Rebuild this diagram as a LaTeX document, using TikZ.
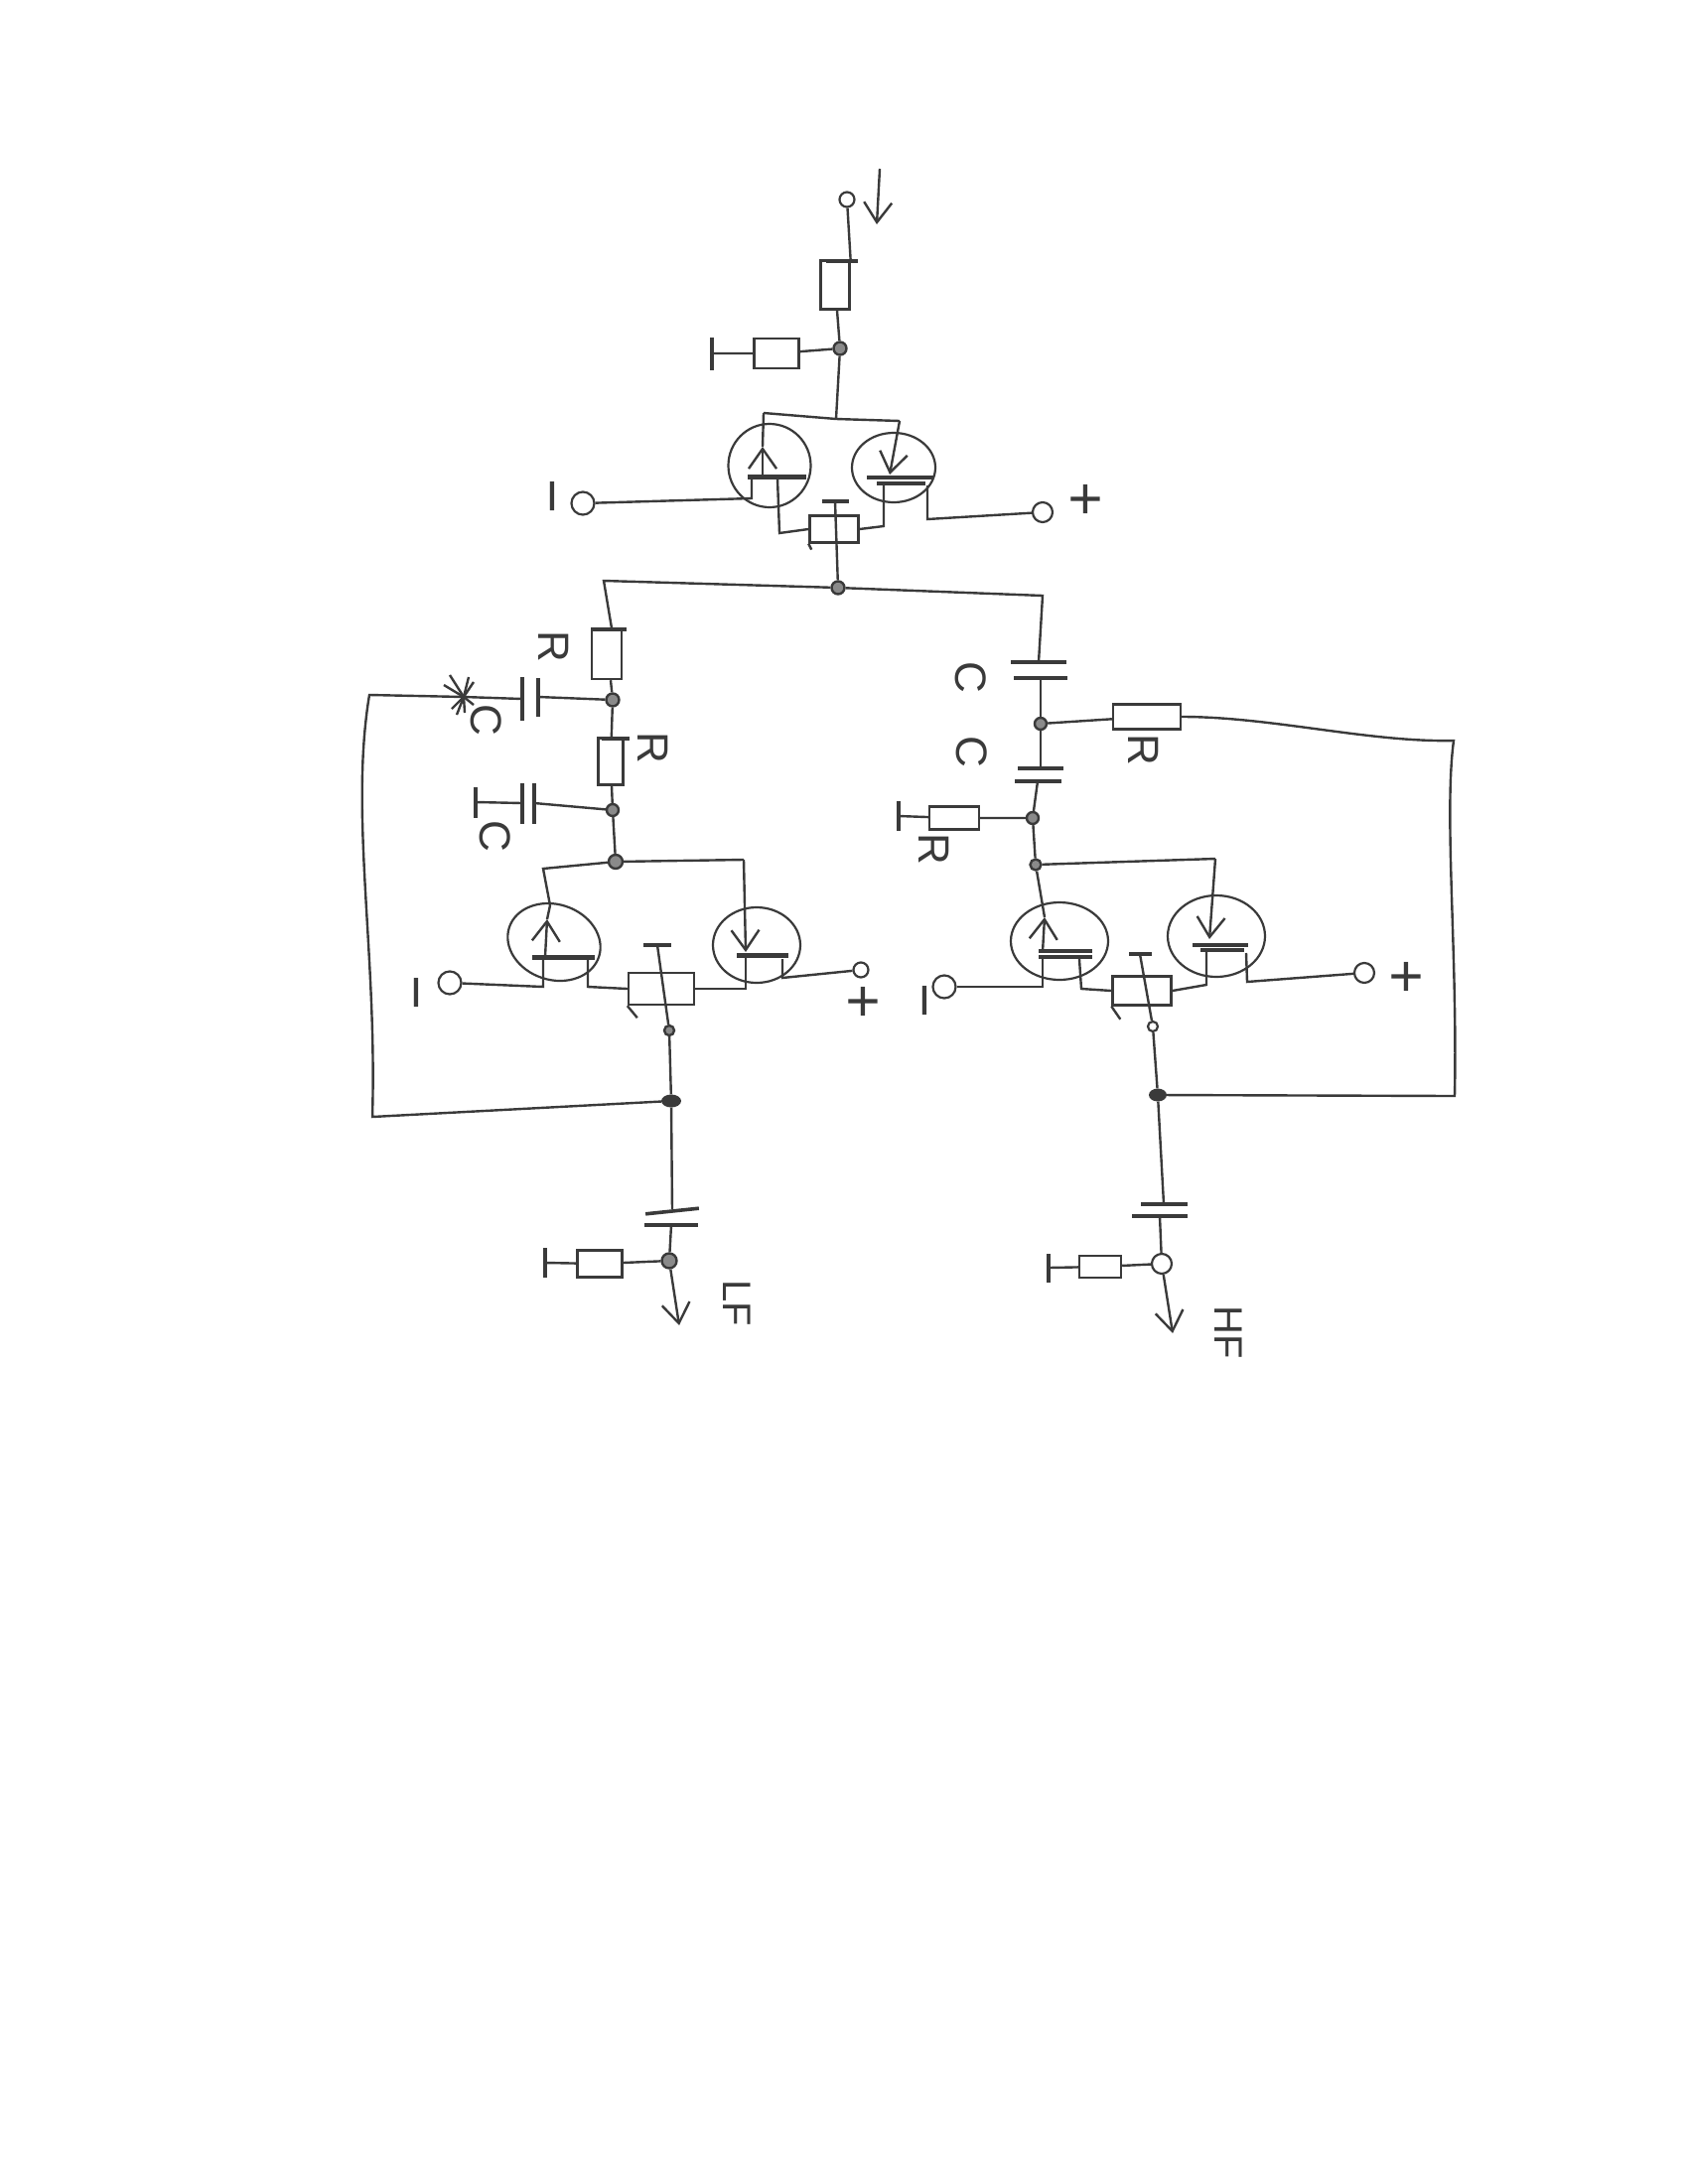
\documentclass[tikz,border=0pt]{standalone}
\usepackage{fontspec}
\setmainfont{Liberation Sans}
\usepackage{xcolor}
\usetikzlibrary{shapes.geometric,arrows.meta}
\definecolor{ink}{HTML}{3A3A3A}
\definecolor{junk}{HTML}{8A8A8A}
\tikzset{
  wire/.style={draw=ink, line width=2.4pt},
  feed/.style={wire, -{Straight Barb[length=20pt,width=28pt]}},
  term/.style={circle, draw=ink, line width=2.2pt, fill=white, inner sep=0pt, minimum size=#1pt},
  junc/.style={circle, draw=ink, line width=2.4pt, fill=junk, inner sep=0pt, minimum size=#1pt},
  blob/.style={ellipse, fill=ink, inner sep=0pt, minimum width=#1pt, minimum height=13pt},
  res/.style 2 args={rectangle, draw=ink, line width=2.4pt, inner sep=0pt, minimum width=#1pt, minimum height=#2pt},
  trans/.style 2 args={ellipse, draw=ink, line width=2.2pt, inner sep=0pt, minimum width=#1pt, minimum height=#2pt},
  hbar/.style={rectangle, fill=ink, inner sep=0pt, minimum width=#1pt, minimum height=3.6pt},
  vbar/.style={rectangle, fill=ink, inner sep=0pt, minimum width=3.6pt, minimum height=#1pt},
  lab/.style={text=ink, font=\fontsize{44}{44}\selectfont, rotate=-90, inner sep=0pt},
  sign/.style={text=ink, font=\fontsize{60}{60}\selectfont, rotate=-90, inner sep=0pt},
}
\begin{document}
\begin{tikzpicture}[x=1pt,y=-1pt]
  \useasboundingbox (0,0) rectangle (1700,2200);

  \node[term=15] (Vtop) at (853,201) {};
  \node[res={29}{49}] (Rtop) at (841,287) {};
  \node[hbar=32] (RtopLip) at (848,263) {};
  \node[junc=13] (Jtop) at (846,351) {};
  \node[res={45}{30}] (Rshunt) at (782,356) {};
  \node[vbar=33] (Gshunt) at (717,356) {};
  \coordinate (ArrA) at (886,170);
  \coordinate (ArrB) at (883,226);
  \draw[feed] (ArrA) -- (ArrB);
  \draw[wire] (Vtop) -- (RtopLip -| Rtop.east);
  \draw[wire] (Rtop) -- (Jtop) -- (Rshunt) -- (Gshunt);

  \coordinate (TailT) at (842,422);
  \coordinate (SrcA) at (769,416);
  \coordinate (SrcB) at (906,424);
  \draw[wire] (Jtop) -- (TailT);
  \draw[wire] (SrcA) -- (TailT) -- (SrcB);

  \node[trans={83}{84}] (QtA) at (775,469) {};
  \node[trans={84}{70}] (QtB) at (900,471) {};
  \node[hbar=59, minimum height=5pt] (GtA) at (782,480) {};
  \node[hbar=67] (GtB) at (906,481) {};
  \node[hbar=49] (GtB2) at (907,487) {};
  \coordinate (TipA) at (768,450);
  \coordinate (TipB) at (896,478);
  \draw[feed] (768,478) -- (TipA);
  \draw[wire] (TipA) -- (SrcA);
  \draw[feed] (SrcB) -- (TipB);

  \node[term=23] (InTL) at (587,507) {};
  \node[term=20] (InTR) at (1050,516) {};
  \node[res={49}{27}] (PotT) at (840,533) {};
  \node[hbar=27] (CapT) at (841,505) {};
  \node[junc=13] (Jbus) at (844,592) {};
  \coordinate (DtA) at (757,502);
  \coordinate (LtA) at (785,537);
  \coordinate (DtB) at (890,530);
  \coordinate (LtB) at (934,523);
  \draw[wire] (757,482) -- (DtA) -- (InTL);
  \draw[wire] (783,482) -- (LtA) -- (PotT.west);
  \draw[wire] (890,489) -- (DtB) -- (PotT.east);
  \draw[wire] (934,489) -- (LtB) -- (InTR);
  \draw[wire] (CapT) -- (Jbus);
  \draw[wire] (PotT.south west) -- ++(3,6);
  \node[sign] (MinT) at (548,500) {−};
  \node[sign] (PlusT) at (1091,503) {+};

  \coordinate (BusL) at (608,585);
  \coordinate (BusR) at (1050,600);
  \node[res={30}{50}] (RlA) at (611,659) {};
  \node[hbar=36] (RlALip) at (613,634) {};
  \node[junc=13] (JlA) at (617,705) {};
  \node[vbar=39] (ClA) at (542,702) {};
  \node[vbar=44] (ClB) at (526,704) {};
  \coordinate (Burst) at (467,702);
  \node[res={25}{47}] (RlB) at (615,767) {};
  \node[hbar=28] (RlBLip) at (620,744) {};
  \node[junc=12] (JlB) at (617,816) {};
  \node[vbar=41] (CmA) at (538,809) {};
  \node[vbar=41] (CmB) at (526,809) {};
  \node[vbar=31] (GlB) at (479,808) {};
  \node[junc=14] (JlC) at (620,868) {};
  \draw[wire] (Jbus) -- (BusL) -- ([xshift=5pt]RlA.north);
  \draw[wire] ([xshift=4pt]RlA.south) -- (JlA) -- (RlB) -- (JlB) -- (JlC);
  \draw[wire] (JlA) -- (ClA);
  \draw[wire] (ClB) -- (Burst);
  \draw[wire] (JlB) -- (CmA);
  \draw[wire] (CmB) -- (GlB);
  \foreach \dx/\dy in {-14/-22,-20/-12,5/-20,10/-15,-7/18,1/16,10/8,-12/12}
    \draw[wire] (Burst) -- ++(\dx,\dy);
  \node[lab] (TxtRa) at (558,651) {R};
  \node[lab] (TxtCa) at (490,725) {C};
  \node[lab] (TxtRb) at (658,753) {R};
  \node[lab] (TxtCb) at (499,842) {C};

  \node[trans={95}{76}, rotate=-18] (QlA) at (558,949) {};
  \node[trans={88}{76}] (QlB) at (762,952) {};
  \node[hbar=63, minimum height=5pt] (GlA) at (567,964) {};
  \node[hbar=52, minimum height=5pt] (GlC) at (768,962) {};
  \coordinate (SlA) at (547,875);
  \coordinate (SlM) at (554,912);
  \coordinate (SlB) at (749,866);
  \coordinate (TipC) at (551,926);
  \coordinate (TipD) at (751,959);
  \draw[wire] (JlC) -- (SlA) -- (SlM) -- (TipC);
  \draw[feed] (549,964) -- (TipC);
  \draw[wire] (JlC) -- (SlB);
  \draw[feed] (SlB) -- (TipD);

  \node[term=23] (InLL) at (453,990) {};
  \node[term=15] (InLR) at (867,977) {};
  \node[res={66}{32}] (PotL) at (666,996) {};
  \node[hbar=28] (CapL) at (662,952) {};
  \node[junc=10] (JwL) at (674,1038) {};
  \node[blob=20] (DotL) at (676,1109) {};
  \coordinate (DlA) at (547,994);
  \coordinate (LlA) at (592,994);
  \coordinate (DlB) at (751,996);
  \coordinate (LlB) at (788,985);
  \draw[wire] (547,964) -- (DlA) -- (InLL);
  \draw[wire] (592,966) -- (LlA) -- (PotL.west);
  \draw[wire] (751,964) -- (DlB) -- (PotL.east);
  \draw[wire] (788,966) -- (LlB) -- (InLR);
  \draw[wire] (CapL) -- (JwL) -- (DotL);
  \draw[wire] (PotL.south west) -- ++(10,12);
  \node[sign] (MinL) at (411,1000) {−};
  \node[sign] (PlusL) at (867,1009) {+};

  \coordinate (OutC) at (375,1125);
  \coordinate (OutD) at (372,700);
  \draw[wire] (Burst) -- (OutD) .. controls (352,820) and (380,960) .. (OutC) -- (DotL);

  \node[hbar=54, rotate=6] (CoA) at (677,1220) {};
  \node[hbar=54] (CoB) at (676,1234) {};
  \node[junc=15] (JoL) at (674,1270) {};
  \node[res={45}{27}] (RoL) at (604,1273) {};
  \node[vbar=30] (GoL) at (549,1272) {};
  \coordinate (EndL) at (684,1335);
  \draw[wire] (DotL) -- (CoA);
  \draw[wire] (CoB) -- (JoL) -- (RoL) -- (GoL);
  \draw[feed] (JoL) -- (EndL);
  \node[lab, font=\fontsize{40}{40}\selectfont] (TxtLF) at (742,1313) {LF};

  \node[hbar=56] (CrA) at (1046,667) {};
  \node[hbar=54] (CrB) at (1048,683) {};
  \node[junc=12] (JrA) at (1048,729) {};
  \node[res={68}{25}] (RrA) at (1155,722) {};
  \node[hbar=46] (CnA) at (1048,774) {};
  \node[hbar=47] (CnB) at (1045,787) {};
  \node[junc=12] (JrB) at (1040,824) {};
  \node[res={50}{23}] (RrB) at (961,824) {};
  \node[vbar=30] (GrB) at (905,822) {};
  \node[junc=11] (JrC) at (1043,871) {};
  \draw[wire] (Jbus) -- (BusR) -- (CrA);
  \draw[wire] (CrB) -- (JrA) -- (CnA);
  \draw[wire] (CnB) -- (JrB) -- (JrC);
  \draw[wire] (JrA) -- (RrA);
  \draw[wire] (JrB) -- (RrB) -- (GrB);
  \node[lab] (TxtCc) at (978,682) {C};
  \node[lab] (TxtCd) at (979,757) {C};
  \node[lab] (TxtRc) at (1152,755) {R};
  \node[lab] (TxtRd) at (941,855) {R};

  \node[trans={98}{78}] (QrA) at (1067,948) {};
  \node[trans={98}{82}] (QrB) at (1225,943) {};
  \node[hbar=54] (GrA) at (1073,958) {};
  \node[hbar=54] (GrA2) at (1073,964) {};
  \node[hbar=56] (GrC) at (1229,952) {};
  \node[hbar=44] (GrC2) at (1231,957) {};
  \coordinate (SrB) at (1224,865);
  \coordinate (TipE) at (1052,924);
  \coordinate (TipF) at (1218,946);
  \draw[feed] (1050,959) -- (TipE);
  \draw[wire] (TipE) -- (JrC);
  \draw[wire] (JrC) -- (SrB);
  \draw[feed] (SrB) -- (TipF);

  \node[term=23] (InRL) at (951,994) {};
  \node[term=20] (InRR) at (1374,980) {};
  \node[res={59}{29}] (PotR) at (1150,998) {};
  \node[hbar=23] (CapR) at (1148,961) {};
  \node[term=10] (JwR) at (1161,1034) {};
  \node[blob=18] (DotR) at (1166,1103) {};
  \coordinate (DrA) at (1050,994);
  \coordinate (LrA) at (1089,996);
  \coordinate (DrB) at (1215,992);
  \coordinate (LrB) at (1256,989);
  \draw[wire] (1050,964) -- (DrA) -- (InRL);
  \draw[wire] (1087,966) -- (LrA) -- (PotR.west);
  \draw[wire] (1215,959) -- (DrB) -- (PotR.east);
  \draw[wire] (1255,960) -- (LrB) -- (InRR);
  \draw[wire] (CapR) -- (JwR) -- (DotR);
  \draw[wire] (PotR.south west) -- ++(9,13);
  \node[sign] (MinR) at (923,1008) {−};
  \node[sign] (PlusR) at (1414,984) {+};

  \coordinate (RetA) at (1464,746);
  \coordinate (RetD) at (1465,1104);
  \draw[wire] (RrA) .. controls (1280,722) and (1380,748) .. (RetA) .. controls (1454,820) and (1468,960) .. (RetD) -- (DotR);

  \node[hbar=47] (CbA) at (1172,1213) {};
  \node[hbar=56] (CbB) at (1168,1225) {};
  \node[term=20] (JoR) at (1170,1273) {};
  \node[res={42}{22}] (RoR) at (1108,1276) {};
  \node[vbar=29] (GoR) at (1056,1277) {};
  \coordinate (EndR) at (1181,1343);
  \draw[wire] (DotR) -- (CbA);
  \draw[wire] (CbB) -- (JoR) -- (RoR) -- (GoR);
  \draw[feed] (JoR) -- (EndR);
  \node[lab, font=\fontsize{40}{40}\selectfont] (TxtHF) at (1237,1342) {HF};
\end{tikzpicture}
\end{document}
